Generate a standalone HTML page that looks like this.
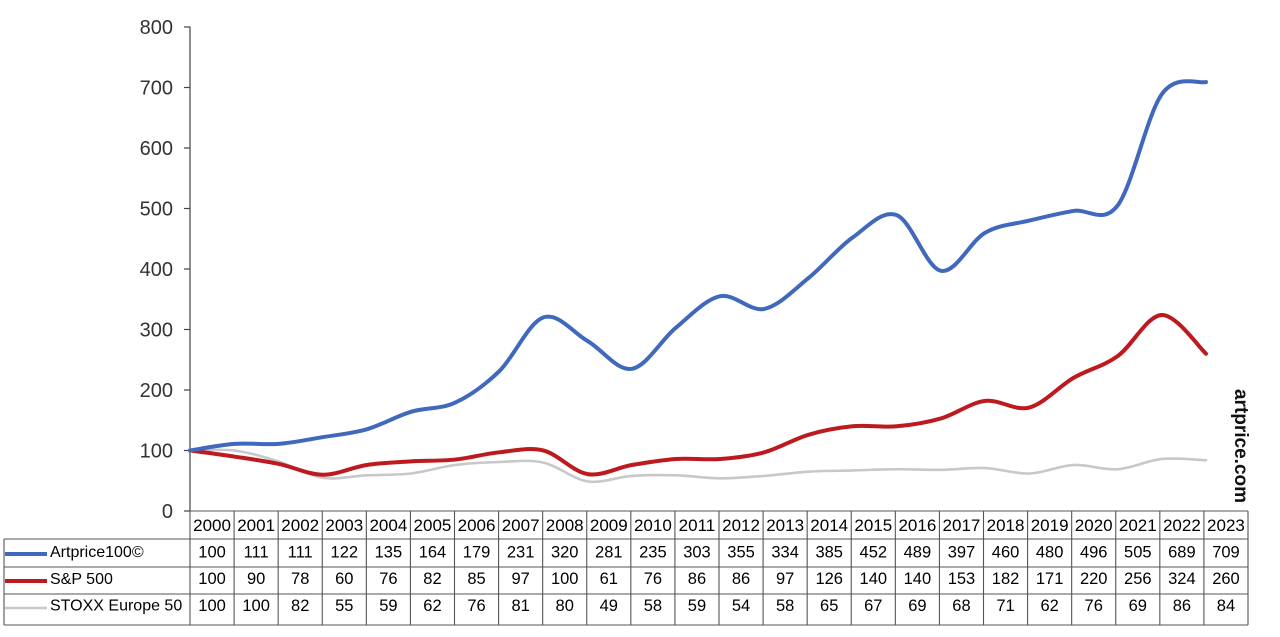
<!DOCTYPE html>
<html>
<head>
<meta charset="utf-8">
<style>
html,body{margin:0;padding:0;background:#fff;}
svg{display:block;font-family:"Liberation Sans",Arial,sans-serif;}
</style>
</head>
<body>
<svg id="c" width="1280" height="637" viewBox="0 0 1280 637" xmlns="http://www.w3.org/2000/svg">
<rect width="1280" height="637" fill="#fff"/>
<!-- y axis -->
<g stroke="#444" stroke-width="1.2">
<line x1="190" y1="26.5" x2="190" y2="511"/>
<line x1="184" y1="27" x2="190" y2="27"/>
<line x1="184" y1="87.5" x2="190" y2="87.5"/>
<line x1="184" y1="148" x2="190" y2="148"/>
<line x1="184" y1="208.5" x2="190" y2="208.5"/>
<line x1="184" y1="269" x2="190" y2="269"/>
<line x1="184" y1="329.5" x2="190" y2="329.5"/>
<line x1="184" y1="390" x2="190" y2="390"/>
<line x1="184" y1="450.5" x2="190" y2="450.5"/>
<line x1="184" y1="511" x2="190" y2="511"/>
</g>
<g font-size="20" fill="#333" text-anchor="end">
<text x="173" y="34">800</text>
<text x="173" y="94.5">700</text>
<text x="173" y="155">600</text>
<text x="173" y="215.5">500</text>
<text x="173" y="276">400</text>
<text x="173" y="336.5">300</text>
<text x="173" y="397">200</text>
<text x="173" y="457.5">100</text>
<text x="173" y="518">0</text>
</g>

<!-- series -->
<path id="gray" fill="none" stroke="#c8c8c8" stroke-width="2.6" stroke-linejoin="round" stroke-linecap="round" d=""/>
<path id="red" fill="none" stroke="#bd1a1f" stroke-width="4" stroke-linejoin="round" stroke-linecap="round" d=""/>
<path id="blue" fill="none" stroke="#4068bd" stroke-width="4" stroke-linejoin="round" stroke-linecap="round" d=""/>

<!-- watermark -->
<text x="0" y="0" font-size="19" font-weight="bold" fill="#111" text-anchor="middle" transform="translate(1235,446) rotate(90)">artprice.com</text>

<!-- table -->
<g id="tbl" stroke="#555" stroke-width="1.1" fill="none">
<line x1="190" y1="511" x2="1248" y2="511"/>
<line x1="4" y1="539" x2="1248" y2="539"/>
<line x1="4" y1="567" x2="1248" y2="567"/>
<line x1="4" y1="594" x2="1248" y2="594"/>
<line x1="4" y1="625" x2="1248" y2="625"/>
<line x1="4" y1="539" x2="4" y2="625"/>
</g>
<g id="tt" fill="#000" text-anchor="middle"></g>

<!-- legend -->
<line x1="5" y1="554" x2="47" y2="554" stroke="#4068bd" stroke-width="4"/>
<line x1="5" y1="581" x2="47" y2="581" stroke="#bd1a1f" stroke-width="4"/>
<line x1="5" y1="608" x2="47" y2="608" stroke="#c8c8c8" stroke-width="2.4"/>
<g font-size="16" fill="#000">
<text x="50" y="557">Artprice100©</text>
<text x="50" y="584">S&amp;P 500</text>
<text x="50" y="610.5">STOXX Europe 50</text>
</g>
</svg>
<script>
(function(){
var NS="http://www.w3.org/2000/svg";
var blue=[100,111,111,122,135,164,179,231,320,281,235,303,355,334,385,452,489,397,460,480,496,505,689,709];
var red=[100,90,78,60,76,82,85,97,100,61,76,86,86,97,126,140,140,153,182,171,220,256,324,260];
var gray=[100,100,82,55,59,62,76,81,80,49,58,59,54,58,65,67,69,68,71,62,76,69,86,84];
var dx=(1206-190)/23;
function pts(a){return a.map(function(v,i){return [190+dx*i,511-0.605*v];});}
function smooth(p){
  var d="M"+p[0][0].toFixed(2)+","+p[0][1].toFixed(2);
  for(var i=0;i<p.length-1;i++){
    var p0=p[i>0?i-1:i],p1=p[i],p2=p[i+1],p3=p[i+2<p.length?i+2:i+1];
    var c1x=p1[0]+(p2[0]-p0[0])/6,c1y=p1[1]+(p2[1]-p0[1])/6;
    var c2x=p2[0]-(p3[0]-p1[0])/6,c2y=p2[1]-(p3[1]-p1[1])/6;
    d+=" C"+c1x.toFixed(2)+","+c1y.toFixed(2)+" "+c2x.toFixed(2)+","+c2y.toFixed(2)+" "+p2[0].toFixed(2)+","+p2[1].toFixed(2);
  }
  return d;
}
document.getElementById("blue").setAttribute("d",smooth(pts(blue)));
document.getElementById("red").setAttribute("d",smooth(pts(red)));
document.getElementById("gray").setAttribute("d",smooth(pts(gray)));
var cw=(1248-190)/24;
var tbl=document.getElementById("tbl");
for(var k=0;k<=24;k++){
  var l=document.createElementNS(NS,"line");
  var x=190+cw*k;
  l.setAttribute("x1",x);l.setAttribute("x2",x);
  l.setAttribute("y1",511);l.setAttribute("y2",625);
  tbl.appendChild(l);
}
var tt=document.getElementById("tt");
function t(x,y,s,fs){var e=document.createElementNS(NS,"text");e.setAttribute("x",x);e.setAttribute("y",y);e.setAttribute("font-size",fs);e.textContent=s;tt.appendChild(e);}
for(var k=0;k<24;k++){
  var cx=190+cw*(k+0.5);
  t(cx,531,String(2000+k),17);
  t(cx,557.5,String(blue[k]),16.5);
  t(cx,584,String(red[k]),16.5);
  t(cx,611,String(gray[k]),16.5);
}
})();
</script>
</body>
</html>
